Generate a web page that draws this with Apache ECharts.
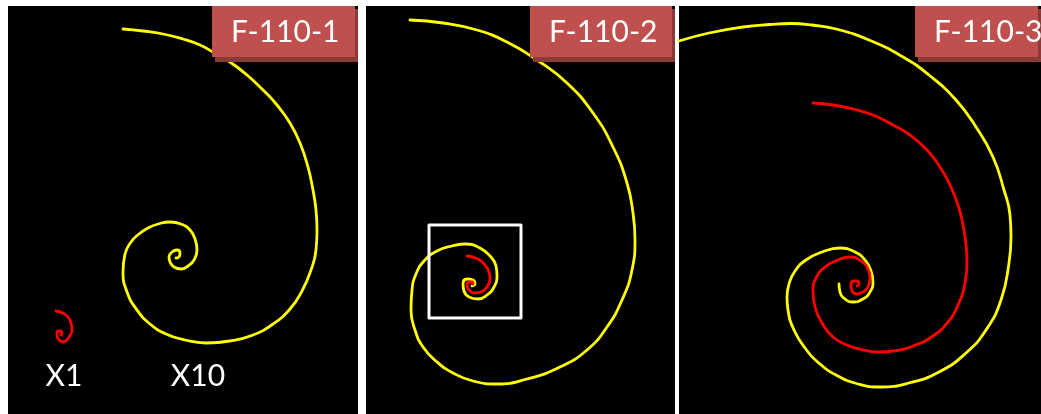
<!DOCTYPE html>
<html><head><meta charset="utf-8">
<script src="https://cdn.jsdelivr.net/npm/echarts@6/dist/echarts.min.js"></script>
<style>html,body{margin:0;padding:0;background:#fff}#c{width:1041px;height:414px}</style>
</head><body><div id="c"></div>
<script>
// Panel titles and captions
const panelTitles = ['F-110-1', 'F-110-2', 'F-110-3'];
const captions = ['X1', 'X10'];

// Curves, [x, y] in image pixels
const p1Yellow = [[123,29],[143,31],[163,34],[183,39],[200,45],[213,52],[230,62],[247,75],[263,90],[277,105],[290,123],[300,143],[308,167],[313,190],[316,210],[317,230],[316,250],[311,270],[302,291],[290,309],[273,324],[253,335],[230,341],[206,343],[185,340],[166,334],[150,324],[137,310],[127,292],[123,272],[125,254],[131,242],[139,234],[148,228],[158,224],[170,222],[181,224],[190,230],[195,239],[197,250],[194,260],[188,266],[181,269],[174,267],[170,262],[169,257],[172,252],[177,250],[180,253],[179,257],[176,258]];
const p1Red = [[56,311],[63,313],[68,317],[71,323],[72,330],[69,337],[63,342],[59,340],[57,335],[57,332],[60,331],[62,333],[61,335]];

const p2Yellow = [[410,20],[443,23],[477,30],[507,42],[537,60],[567,83],[593,113],[613,147],[627,183],[633,213],[635,240],[632,270],[622,300],[607,327],[587,350],[560,367],[527,379],[497,384],[473,381],[453,373],[437,362],[423,347],[415,330],[411,310],[412,290],[416,274],[424,261],[437,251],[452,246],[466,244],[480,248],[490,256],[496,266],[497,276],[494,287],[487,295],[478,299],[469,297],[464,291],[463,284],[467,279],[473,280],[475,284],[472,286]];
const p2Red = [[467,256],[478,259],[485,265],[489,272],[490,279],[487,287],[481,292],[474,293],[469,290],[467,285],[469,282],[472,282],[473,284]];
const p2Box = [[429,225],[521,225],[521,318],[429,318],[429,225]];

const p3Yellow = [[679,41],[709,33],[743,27],[770,24.5],[791,23.5],[812,25],[836,29],[869,40],[903,57],[929,75],[956,100],[976,127],[993,157],[1004,190],[1010,215],[1011,237],[1009,263],[1001,300],[986,330],[966,353],[939,372],[909,383],[880,387],[858,384],[838,376],[820,364],[805,348],[794,330],[788,310],[787,297],[789,284],[795,271],[806,260],[822,252],[840,248],[855,252],[865,260],[871,271],[873,282],[870,292],[863,299],[853,302],[845,299],[840,292],[839,284]];
const p3Red = [[813,103],[833,105],[853,109],[873,115],[893,125],[910,135],[927,150],[940,167],[950,185],[958,205],[963,225],[966,245],[967,262],[965,283],[958,305],[948,322],[933,336],[913,346],[893,351],[878,352],[863,350],[847,345],[833,337],[822,323],[815,307],[813,291],[816,278],[825,267],[838,260],[850,257],[861,261],[868,269],[870,278],[868,287],[863,292],[857,294],[852,291],[851,285],[854,281],[857,281],[859,284],[857,286]];

const panels = [
  {x0: 8, x1: 358, title: panelTitles[0], boxX: 212},
  {x0: 366, x1: 675, title: panelTitles[1], boxX: 530},
  {x0: 679, x1: 1041, title: panelTitles[2], boxX: 915}
];
const Y0 = 6, Y1 = 414;

const grids = [], xAxes = [], yAxes = [];
panels.forEach((p, i) => {
  grids.push({left: p.x0, top: Y0, width: p.x1 - p.x0, height: Y1 - Y0, show: true,
    backgroundColor: '#000', borderWidth: 0});
  xAxes.push({type: 'value', gridIndex: i, min: p.x0, max: p.x1, show: false});
  yAxes.push({type: 'value', gridIndex: i, min: Y0, max: Y1, inverse: true, show: false});
});

function curve(data, idx, color, width, smooth) {
  return {type: 'line', xAxisIndex: idx, yAxisIndex: idx, data: data, showSymbol: false,
    smooth: smooth === undefined ? 0.5 : smooth, clip: true, silent: true, animation: false,
    lineStyle: {color: color, width: width, cap: 'round', join: 'round'}};
}

const series = [
  curve(p1Yellow, 0, '#ffff00', 2.8),
  curve(p1Red, 0, '#ff0000', 2.8),
  curve(p2Yellow, 1, '#ffff00', 2.8),
  curve(p2Red, 1, '#ff0000', 2.8),
  curve(p2Box, 1, '#ffffff', 3, false),
  curve(p3Yellow, 2, '#ffff00', 2.8),
  curve(p3Red, 2, '#ff0000', 2.8)
];

const graphic = [];
panels.forEach(p => {
  graphic.push({type: 'rect', shape: {x: p.boxX + 3, y: Y0 + 3, width: p.x1 - p.boxX - 3, height: 53},
    style: {fill: '#8c3a38'}, z: 10});
  graphic.push({type: 'rect', shape: {x: p.boxX, y: Y0, width: p.x1 - p.boxX - 3, height: 51},
    style: {fill: '#c0504d'}, z: 11});
  graphic.push({type: 'text', x: p.boxX + 19, y: Y0 + 26, z: 12,
    style: {text: p.title, fill: '#fff', font: '30px Lato, "Open Sans", sans-serif', textVerticalAlign: 'middle'}});
});
graphic.push({type: 'text', x: 64, y: 376, z: 12, style: {text: captions[0], fill: '#fff',
  font: '30px Lato, "Open Sans", sans-serif', textAlign: 'center', textVerticalAlign: 'middle'}});
graphic.push({type: 'text', x: 198, y: 376, z: 12, style: {text: captions[1], fill: '#fff',
  font: '30px Lato, "Open Sans", sans-serif', textAlign: 'center', textVerticalAlign: 'middle'}});

const chart = echarts.init(document.getElementById('c'));
chart.setOption({backgroundColor: '#fff', animation: false, grid: grids, xAxis: xAxes, yAxis: yAxes,
  series: series, graphic: graphic});
</script></body></html>
